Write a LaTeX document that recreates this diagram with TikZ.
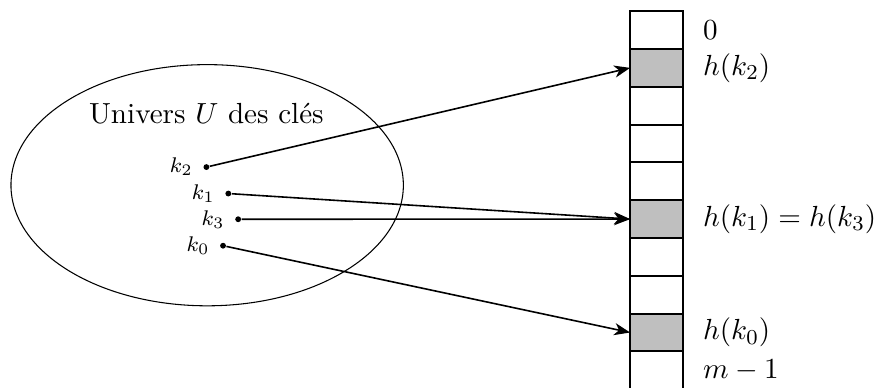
\documentclass[11pt,tikz,border=0pt]{standalone}
\usepackage{fontspec}
\usetikzlibrary{positioning,shapes.geometric,arrows.meta}

\begin{document}
\begin{tikzpicture}[
    >={Stealth[length=6pt,width=4.6pt,inset=1.8pt]},
    cell/.style={draw, thick, minimum width=0.7cm, minimum height=0.5cm,
                 inner sep=0pt, outer sep=0pt},
    pris/.style={cell, fill=gray!50},
    cle/.style={circle, fill, inner sep=0pt, minimum size=2.2pt},
    klabel/.style={font=\scriptsize},
    arr/.style={->, semithick}
  ]
  \useasboundingbox (0,0) rectangle (11.56,5.12);

  %% ── Univers des clés ──
  \node[draw, ellipse, minimum width=5.19cm, minimum height=3.19cm]
    (univ) at (2.74,2.67) {};
  \node (titre) at (2.73,3.62) {Univers $U$ des clés};

  \node[cle, label={[klabel]left:$k_2$}] (k2) at (2.73,2.91) {};
  \node[cle, label={[klabel]left:$k_1$}] (k1) at (3.02,2.56) {};
  \node[cle, label={[klabel]left:$k_3$}] (k3) at (3.15,2.22) {};
  \node[cle, label={[klabel]left:$k_0$}] (k0) at (2.95,1.87) {};

  %% ── Table ──
  \foreach \i in {0,...,8}
    \node[cell] (c\i) at (8.684,4.722-0.5*\i) {};
  \foreach \i in {1,5,8}
    \node[pris] at (c\i) {};
  \node[cell, draw=none] (c9) at (8.684,0.222) {};
  \draw[thick] (c9.north west) -- (c9.south west)
               (c9.north east) -- (c9.south east);

  \node[right=0.13cm of c0] (l0) {$0$};
  \node[right=0.13cm of c1] (l1) {$h(k_2)$};
  \node[right=0.13cm of c5] (l5) {$h(k_1) = h(k_3)$};
  \node[right=0.13cm of c8] (l8) {$h(k_0)$};
  \node[right=0.13cm of c9] (l9) {$m-1$};

  %% ── Hachage ──
  \draw[arr] (k2) -- (c1.west);
  \draw[arr] (k1) -- (c5.west);
  \draw[arr] (k3) -- (c5.west);
  \draw[arr] (k0) -- (c8.west);

\end{tikzpicture}
\end{document}
